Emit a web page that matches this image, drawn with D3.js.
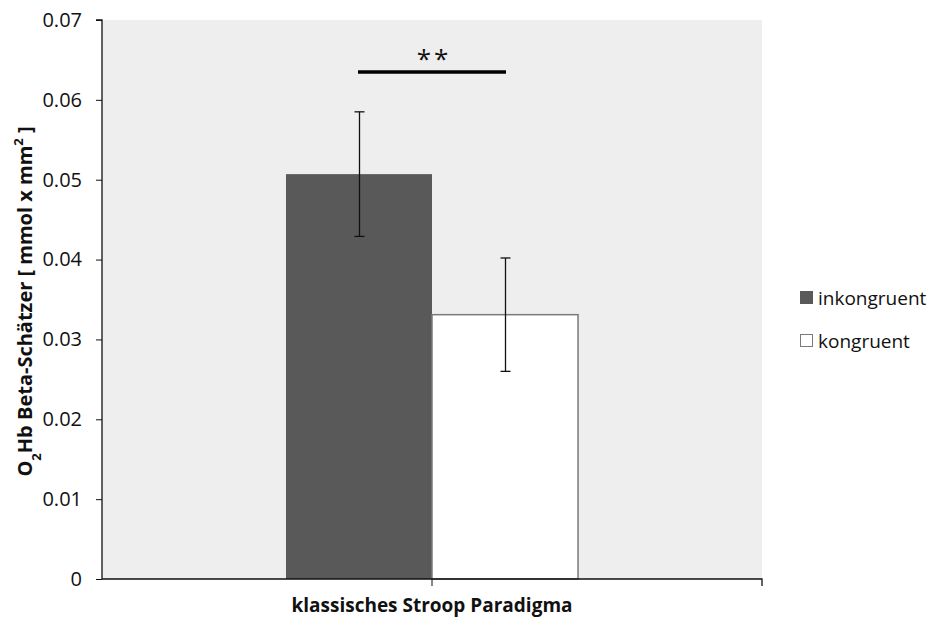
<!DOCTYPE html>
<html lang="de">
<head>
<meta charset="utf-8">
<title>Stroop</title>
<script src="https://d3js.org/d3.v7.min.js"></script>
<style>
  body { margin:0; background:#fff; }
  text { font-family: "Open Sans", "Noto Sans", sans-serif; fill:#111; }
</style>
</head>
<body>
<svg id="chart" width="935" height="619"></svg>
<script>
// data
const categories = ["klassisches Stroop Paradigma"];
const seriesNames = ["inkongruent", "kongruent"];
const seriesValues = [0.0507, 0.0331];
const seriesErrors = [0.0078, 0.0071];
const seriesColors = ["#595959", "#ffffff"];
const yTicks = [0, 0.01, 0.02, 0.03, 0.04, 0.05, 0.06, 0.07];
const sigLabel = "**";

const svg = d3.select("#chart");
const m = {left: 102, top: 20, right: 762, bottom: 579};

const x = d3.scaleBand().domain(categories).range([m.left, m.right]).paddingInner(0).paddingOuter(0.63);
const xs = d3.scaleBand().domain(seriesNames).range([0, x.bandwidth()]);
const y = d3.scaleLinear().domain([0, 0.07]).range([m.bottom, m.top]);

// plot area background
svg.append("rect")
  .attr("x", m.left).attr("y", m.top)
  .attr("width", m.right - m.left).attr("height", m.bottom - m.top)
  .attr("fill", "#eeeeee");

// bars
const rows = seriesNames.map((s, i) => ({s: s, v: seriesValues[i], e: seriesErrors[i], c: seriesColors[i]}));
const g = svg.append("g");
g.selectAll("rect.bar").data(rows).enter().append("rect")
  .attr("class", "bar")
  .attr("x", d => x(categories[0]) + xs(d.s))
  .attr("y", d => y(d.v))
  .attr("width", xs.bandwidth())
  .attr("height", d => y(0) - y(d.v))
  .attr("fill", d => d.c)
  .attr("stroke", (d, i) => i == 0 ? "none" : "#7a7a7a")
  .attr("stroke-width", 1.5);

// error bars
rows.forEach(d => {
  const cx = Math.round(x(categories[0]) + xs(d.s) + xs.bandwidth() / 2) + 0.5;
  g.append("line").attr("x1", cx).attr("x2", cx)
    .attr("y1", y(d.v + d.e)).attr("y2", y(d.v - d.e))
    .attr("stroke", "#111").attr("stroke-width", 1.3);
  [d.v + d.e, d.v - d.e].forEach(v => {
    g.append("line").attr("x1", cx - 5).attr("x2", cx + 5)
      .attr("y1", y(v)).attr("y2", y(v))
      .attr("stroke", "#111").attr("stroke-width", 1.3);
  });
});

// y axis
const yAxis = svg.append("g")
  .attr("transform", "translate(" + m.left + ",0)")
  .call(d3.axisLeft(y).tickValues(yTicks).tickSize(6).tickPadding(14)
    .tickFormat(d => d === 0 ? "0" : d3.format(".2f")(d)));
yAxis.select(".domain").attr("stroke", "#111").attr("stroke-width", 1.3).attr("d", "M-6," + m.top + "H0V" + m.bottom);
yAxis.selectAll(".tick line").attr("stroke", "#111");
yAxis.selectAll("text").style("font-size", "20px").attr("fill", "#111");

// x axis
const xAxis = svg.append("g")
  .attr("transform", "translate(0," + m.bottom + ")")
  .call(d3.axisBottom(x).tickSize(7).tickFormat(""));
xAxis.select(".domain").attr("stroke", "#111").attr("stroke-width", 1.3)
  .attr("d", "M" + m.left + ",0H" + m.right + "V7");
xAxis.selectAll(".tick line").attr("stroke", "#111");

svg.append("text")
  .attr("x", x(categories[0]) + x.bandwidth() / 2).attr("y", 612)
  .attr("text-anchor", "middle")
  .style("font-size", "19px").style("font-weight", "bold")
  .text(categories[0]);

// y label
const yl = svg.append("text")
  .attr("transform", "translate(32," + ((m.top + m.bottom) / 2 + 2) + ") rotate(-90)")
  .attr("text-anchor", "middle")
  .style("font-size", "20px").style("font-weight", "bold");
yl.append("tspan").text("O");
yl.append("tspan").attr("baseline-shift", "sub").style("font-size", "13px").text("2");
yl.append("tspan").text("Hb Beta-Schätzer [ mmol x mm");
yl.append("tspan").attr("baseline-shift", "super").style("font-size", "13px").text("2");
yl.append("tspan").text(" ]");

// significance bracket
const x0 = x(categories[0]) + xs(seriesNames[0]) + xs.bandwidth() / 2;
const x1 = x(categories[0]) + xs(seriesNames[1]) + xs.bandwidth() / 2;
svg.append("line").attr("x1", x0 - 1).attr("x2", x1 + 1)
  .attr("y1", 72).attr("y2", 72)
  .attr("stroke", "#000").attr("stroke-width", 3.5);
svg.append("text")
  .attr("x", (x0 + x1) / 2 + 2).attr("y", 68)
  .attr("text-anchor", "middle")
  .style("font-size", "26px").style("letter-spacing", "3px")
  .text(sigLabel);

// legend
const lg = svg.append("g").attr("transform", "translate(800,291)");
seriesNames.forEach((s, i) => {
  const row = lg.append("g").attr("transform", "translate(0," + (i * 43) + ")");
  row.append("rect").attr("x", 0.5).attr("y", 0.5).attr("width", 12).attr("height", 12)
    .attr("fill", seriesColors[i]).attr("stroke", i == 0 ? "#595959" : "#7a7a7a");
  row.append("text").attr("x", 18).attr("y", 14).style("font-size", "19px").text(s);
});
</script>
</body>
</html>
